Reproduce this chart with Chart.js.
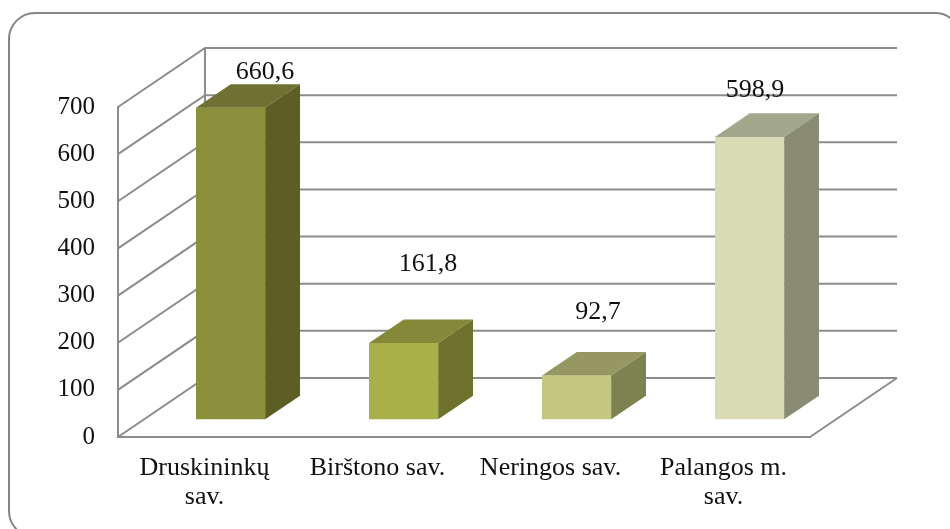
<!DOCTYPE html>
<html>
<head>
<meta charset="utf-8">
<script src="https://cdn.jsdelivr.net/npm/chart.js@4"></script>
<style>
  html, body { margin: 0; padding: 0; background: #fff; }
  #wrap { width: 950px; height: 529px; }
</style>
</head>
<body>
<div id="wrap"><canvas id="chart" width="950" height="529"></canvas></div>
<script>
const categories = [['Druskininkų', 'sav.'], 'Birštono sav.', 'Neringos sav.', ['Palangos m.', 'sav.']];
const values = [660.6, 161.8, 92.7, 598.9];
const yMin = 0, yMax = 700, yStep = 100;

const frontColors = ['#8b903d', '#a9b04a', '#c3c77f', '#d9dbb4'];
const topColors = ['#6e7131', '#858838', '#959961', '#a2a68a'];
const sideColors = ['#5c5e26', '#6e722d', '#7e8150', '#898b73'];
// nudges for value labels, px from the centre of each bar's top face
const labelShift = [[17, -24], [7, -67], [4, -52], [-12, -35]];

const font = 'Liberation Serif';
const lineColor = '#8c8c8c';

// perspective: vector from the front plane to the back wall
const depthX = 87, depthY = -59;
const barFront = 0.3, barBack = 0.7;

const fmt = v => v.toFixed(1).replace('.', ',');

const box3d = {
  id: 'box3d',
  beforeDraw(chart) {
    // frame runs past the right and bottom edges of the canvas
    const ctx = chart.ctx;
    ctx.save();
    ctx.strokeStyle = '#858585';
    ctx.lineWidth = 2;
    ctx.beginPath();
    ctx.roundRect(9, 13, 952, 524, 26);
    ctx.stroke();
    ctx.restore();
  },
  beforeDatasetsDraw(chart) {
    const { ctx, chartArea: a, scales: { y } } = chart;
    ctx.save();
    ctx.strokeStyle = lineColor;
    ctx.lineWidth = 2;
    ctx.beginPath();
    y.ticks.forEach(t => {
      const py = y.getPixelForValue(t.value);
      ctx.moveTo(a.left, py);
      ctx.lineTo(a.left + depthX, py + depthY);
      ctx.lineTo(a.right + depthX, py + depthY);
    });
    // back wall edge and floor side edge
    ctx.moveTo(a.left + depthX, y.getPixelForValue(yMax) + depthY);
    ctx.lineTo(a.left + depthX, y.getPixelForValue(yMin) + depthY);
    ctx.moveTo(a.right, a.bottom);
    ctx.lineTo(a.right + depthX, a.bottom + depthY);
    ctx.stroke();
    ctx.restore();

    // front faces of the bars sit partway into the depth
    ctx.save();
    ctx.translate(depthX * barFront, depthY * barFront);
  },
  afterDatasetsDraw(chart) {
    const ctx = chart.ctx;
    ctx.restore();
    const fx = depthX * barFront, fy = depthY * barFront;
    const bx = depthX * (barBack - barFront), by = depthY * (barBack - barFront);
    const meta = chart.getDatasetMeta(0);
    meta.data.forEach((bar, i) => {
      const left = bar.x - bar.width / 2 + fx;
      const right = bar.x + bar.width / 2 + fx;
      const top = bar.y + fy;
      const bottom = bar.base + fy;

      ctx.fillStyle = topColors[i];
      ctx.beginPath();
      ctx.moveTo(left, top);
      ctx.lineTo(right, top);
      ctx.lineTo(right + bx, top + by);
      ctx.lineTo(left + bx, top + by);
      ctx.closePath();
      ctx.fill();

      ctx.fillStyle = sideColors[i];
      ctx.beginPath();
      ctx.moveTo(right, top);
      ctx.lineTo(right + bx, top + by);
      ctx.lineTo(right + bx, bottom + by);
      ctx.lineTo(right, bottom);
      ctx.closePath();
      ctx.fill();

      const cx = bar.x + fx + bx / 2, cy = top + by / 2;
      ctx.fillStyle = '#111';
      ctx.font = '26px "' + font + '"';
      ctx.textAlign = 'center';
      ctx.textBaseline = 'middle';
      ctx.fillText(fmt(values[i]), cx + labelShift[i][0], cy + labelShift[i][1]);
    });
  }
};

new Chart(document.getElementById('chart'), {
  type: 'bar',
  data: {
    labels: categories,
    datasets: [{
      data: values,
      backgroundColor: frontColors,
      borderWidth: 0,
      categoryPercentage: 1,
      barPercentage: 0.4,
      clip: false
    }]
  },
  options: {
    responsive: false,
    animation: false,
    layout: { padding: { left: 0, right: 140, top: 107, bottom: 0 } },
    plugins: { legend: { display: false }, tooltip: { enabled: false } },
    scales: {
      x: {
        grid: { display: false, drawTicks: false },
        border: { display: true, color: lineColor, width: 2 },
        ticks: {
          color: '#111',
          padding: 17,
          maxRotation: 0,
          autoSkip: false,
          font: { family: font, size: 26, lineHeight: 1.1 }
        },
        afterFit: s => { s.height = 92; }
      },
      y: {
        min: yMin,
        max: yMax,
        grid: { display: false, drawTicks: false },
        border: { display: true, color: lineColor, width: 2 },
        ticks: {
          stepSize: yStep,
          color: '#111',
          padding: 23,
          font: { family: font, size: 25 }
        },
        afterFit: s => { s.width = 118; }
      }
    }
  },
  plugins: [box3d]
});
</script>
</body>
</html>
